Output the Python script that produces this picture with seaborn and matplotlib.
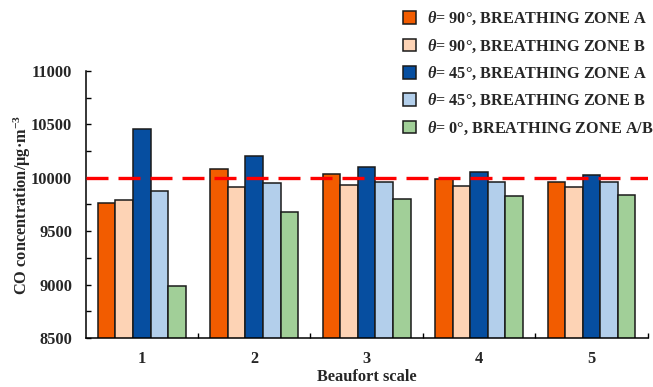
import numpy as np
import pandas as pd
import matplotlib
matplotlib.use("Agg")
import matplotlib.pyplot as plt
import seaborn as sns
from matplotlib.patches import Patch
from matplotlib.ticker import MultipleLocator, FixedLocator

# Beaufort scale categories
beaufort = ["1", "2", "3", "4", "5"]

# CO concentration (µg/m³) per wind direction and breathing zone
theta90_zone_a = [9766, 10078, 10031, 9984, 9956]
theta90_zone_b = [9791, 9912, 9934, 9925, 9912]
theta45_zone_a = [10461, 10208, 10099, 10050, 10022]
theta45_zone_b = [9875, 9947, 9963, 9963, 9963]
theta0_zone_ab = [8984, 9679, 9804, 9832, 9838]

series_labels = [
    r"$\theta$= 90°, BREATHING ZONE A",
    r"$\theta$= 90°, BREATHING ZONE B",
    r"$\theta$= 45°, BREATHING ZONE A",
    r"$\theta$= 45°, BREATHING ZONE B",
    r"$\theta$= 0°, BREATHING ZONE A/B",
]
series_colors = ["#F25C00", "#FDD3B5", "#064EA0", "#B3CFEB", "#A1CF98"]
reference_level = 10000

series_values = [theta90_zone_a, theta90_zone_b, theta45_zone_a,
                 theta45_zone_b, theta0_zone_ab]
df = pd.DataFrame(
    [(b, lab, v) for lab, vals in zip(series_labels, series_values)
     for b, v in zip(beaufort, vals)],
    columns=["Beaufort", "series", "value"],
)

FS = 11.8

sns.set_style("white")
plt.rcParams["font.family"] = ["Liberation Serif", "DejaVu Serif"]
plt.rcParams["font.weight"] = "bold"
plt.rcParams["mathtext.fontset"] = "custom"
plt.rcParams["mathtext.rm"] = "Liberation Serif:bold"
plt.rcParams["mathtext.bf"] = "Liberation Serif:bold"
plt.rcParams["mathtext.it"] = "Liberation Serif:italic:bold"

fig = plt.figure(figsize=(6.53, 3.87), dpi=100)
ax = fig.add_axes([0.131, 0.1266, 0.861, 0.69])

sns.barplot(
    data=df, x="Beaufort", y="value", hue="series",
    palette=series_colors, width=0.78, gap=0,
    edgecolor="#1a1a1a", linewidth=1.1, saturation=1,
    errorbar=None, ax=ax, legend=False,
)

ax.axhline(reference_level, color="#FF0000", linewidth=2.4,
           linestyle=(0, (6.6, 3.0)), zorder=5)

ax.set_xlim(-0.5, len(beaufort) - 0.5)
ax.set_ylim(8500, 11000)
ax.yaxis.set_major_locator(MultipleLocator(500))
ax.yaxis.set_minor_locator(MultipleLocator(250))
ax.xaxis.set_minor_locator(FixedLocator(np.arange(0.5, len(beaufort), 1.0)))

ax.tick_params(axis="y", which="both", direction="in", length=3.5,
               width=1, left=True, labelsize=FS, pad=9.5, color="black")
ax.tick_params(axis="x", which="major", length=0, labelsize=FS, pad=9)
ax.tick_params(axis="x", which="minor", direction="in", length=3.5,
               width=1, bottom=True, color="black")

for side in ["top", "right"]:
    ax.spines[side].set_visible(False)
for side in ["left", "bottom"]:
    ax.spines[side].set_color("black")
    ax.spines[side].set_linewidth(1.1)

ax.set_xlabel("Beaufort scale", fontsize=FS, fontweight="bold", labelpad=2)
ax.set_ylabel(r"CO concentration/μg·m$^{-3}$", fontsize=FS,
              fontweight="bold")
ax.yaxis.set_label_coords(-0.094, 0.5)

handles = [Patch(facecolor=c, edgecolor="#1a1a1a", linewidth=1.1)
           for c in series_colors]
fig.legend(
    handles, series_labels, loc="upper left",
    bbox_to_anchor=(0.612, 0.982), frameon=False,
    prop={"family": "Liberation Serif", "weight": "bold", "size": FS * 0.99},
    handlelength=0.8, handleheight=0.8, handletextpad=0.7,
    labelspacing=0.62, borderaxespad=0, borderpad=0.2,
)

fig.savefig("out.png", dpi=100)
